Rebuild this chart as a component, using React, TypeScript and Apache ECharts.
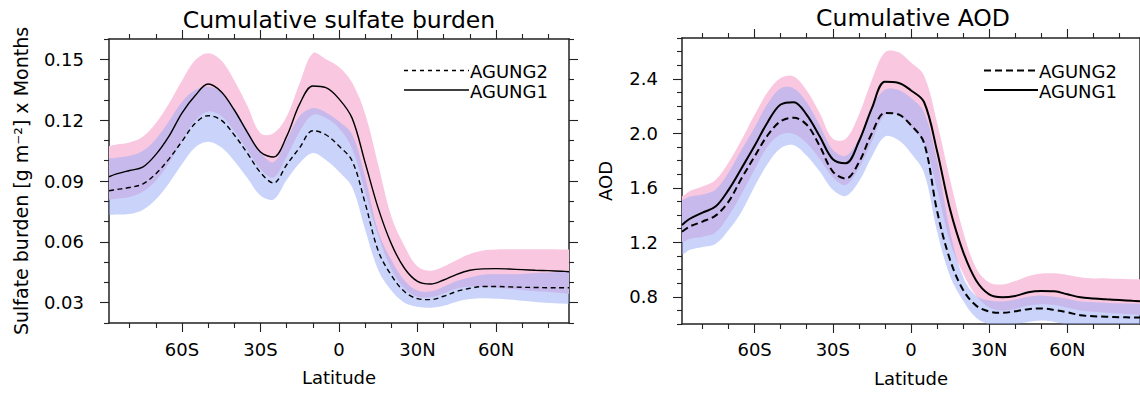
import React, { useEffect, useRef } from "react";
import * as echarts from "echarts";

// ---- data ----
const LATITUDES = [-87.86, -85, -80, -75, -70, -65, -60, -55, -50, -45, -40, -35, -30, -25, -20, -15, -10, -5, 0, 5, 10, 15, 20, 25, 30, 35, 40, 45, 50, 55, 60, 65, 70, 75, 80, 85, 87.86];

const SULFATE_AGUNG1 = [0.0921, 0.0935, 0.0952, 0.0968, 0.1030, 0.1120, 0.1235, 0.1320, 0.1378, 0.1340, 0.1250, 0.1140, 0.1043, 0.1018, 0.1120, 0.1280, 0.1368, 0.1360, 0.1305, 0.1210, 0.0990, 0.0765, 0.0590, 0.0470, 0.0405, 0.0392, 0.0412, 0.0440, 0.0460, 0.0467, 0.0468, 0.0466, 0.0463, 0.0460, 0.0458, 0.0455, 0.0453];
const SULFATE_AGUNG1_HIGH = [0.1073, 0.1080, 0.1090, 0.1118, 0.1185, 0.1281, 0.1394, 0.1495, 0.1530, 0.1495, 0.1395, 0.1271, 0.1135, 0.1135, 0.1218, 0.1383, 0.1530, 0.1500, 0.1462, 0.1385, 0.1230, 0.0980, 0.0725, 0.0580, 0.0478, 0.0457, 0.0478, 0.0510, 0.0540, 0.0557, 0.0562, 0.0563, 0.0563, 0.0563, 0.0563, 0.0562, 0.0562];
const SULFATE_AGUNG1_LOW = [0.0809, 0.0813, 0.0821, 0.0847, 0.0900, 0.0987, 0.1099, 0.1197, 0.1243, 0.1221, 0.1147, 0.1053, 0.0958, 0.0917, 0.1020, 0.1144, 0.1226, 0.1210, 0.1160, 0.1060, 0.0845, 0.0630, 0.0465, 0.0370, 0.0330, 0.0327, 0.0346, 0.0370, 0.0380, 0.0377, 0.0374, 0.0369, 0.0363, 0.0357, 0.0353, 0.0348, 0.0344];
const SULFATE_AGUNG2 = [0.0852, 0.0858, 0.0868, 0.0885, 0.0935, 0.1008, 0.1095, 0.1183, 0.1222, 0.1200, 0.1127, 0.1037, 0.0942, 0.0890, 0.0980, 0.1065, 0.1148, 0.1128, 0.1072, 0.1000, 0.0790, 0.0555, 0.0435, 0.0355, 0.0320, 0.0315, 0.0332, 0.0356, 0.0371, 0.0380, 0.0380, 0.0378, 0.0376, 0.0375, 0.0374, 0.0374, 0.0374];
const SULFATE_AGUNG2_HIGH = [0.1012, 0.1015, 0.1024, 0.1048, 0.1106, 0.1193, 0.1289, 0.1348, 0.1366, 0.1338, 0.1256, 0.1152, 0.1040, 0.0992, 0.1103, 0.1221, 0.1259, 0.1238, 0.1193, 0.1130, 0.0920, 0.0650, 0.0510, 0.0410, 0.0360, 0.0355, 0.0379, 0.0407, 0.0424, 0.0438, 0.0440, 0.0440, 0.0442, 0.0446, 0.0449, 0.0452, 0.0453];
const SULFATE_AGUNG2_LOW = [0.0732, 0.0735, 0.0737, 0.0757, 0.0809, 0.0888, 0.0982, 0.1065, 0.1094, 0.1066, 0.0999, 0.0915, 0.0828, 0.0809, 0.0905, 0.0989, 0.1038, 0.1004, 0.0946, 0.0870, 0.0660, 0.0460, 0.0360, 0.0300, 0.0280, 0.0275, 0.0285, 0.0305, 0.0318, 0.0322, 0.0320, 0.0316, 0.0310, 0.0304, 0.0299, 0.0296, 0.0295];

const AOD_AGUNG1 = [1.327, 1.371, 1.418, 1.462, 1.585, 1.744, 1.908, 2.082, 2.212, 2.229, 2.136, 1.977, 1.810, 1.781, 1.940, 2.185, 2.378, 2.372, 2.315, 2.230, 1.870, 1.440, 1.130, 0.920, 0.818, 0.797, 0.806, 0.833, 0.842, 0.840, 0.818, 0.796, 0.787, 0.781, 0.776, 0.770, 0.767];
const AOD_AGUNG1_HIGH = [1.540, 1.575, 1.609, 1.658, 1.786, 1.952, 2.136, 2.303, 2.406, 2.418, 2.315, 2.148, 1.960, 1.960, 2.136, 2.393, 2.595, 2.598, 2.520, 2.425, 2.080, 1.660, 1.280, 1.010, 0.905, 0.890, 0.915, 0.950, 0.970, 0.972, 0.960, 0.943, 0.935, 0.935, 0.932, 0.929, 0.928];
const AOD_AGUNG1_LOW = [1.200, 1.225, 1.241, 1.271, 1.393, 1.555, 1.732, 1.903, 1.991, 1.996, 1.928, 1.812, 1.678, 1.621, 1.744, 1.940, 2.136, 2.136, 2.045, 1.935, 1.590, 1.200, 0.970, 0.805, 0.722, 0.700, 0.710, 0.735, 0.745, 0.740, 0.720, 0.700, 0.690, 0.683, 0.677, 0.670, 0.667];
const AOD_AGUNG2 = [1.278, 1.315, 1.352, 1.396, 1.499, 1.670, 1.830, 1.986, 2.089, 2.114, 2.063, 1.906, 1.719, 1.668, 1.786, 2.001, 2.150, 2.140, 2.060, 1.930, 1.430, 1.070, 0.850, 0.735, 0.692, 0.682, 0.693, 0.709, 0.714, 0.703, 0.686, 0.664, 0.657, 0.653, 0.650, 0.648, 0.647];
const AOD_AGUNG2_HIGH = [1.511, 1.535, 1.550, 1.585, 1.712, 1.879, 2.043, 2.217, 2.330, 2.330, 2.229, 2.058, 1.879, 1.835, 1.962, 2.197, 2.320, 2.320, 2.259, 2.155, 1.800, 1.280, 0.945, 0.805, 0.772, 0.765, 0.780, 0.800, 0.810, 0.800, 0.785, 0.765, 0.760, 0.755, 0.752, 0.750, 0.749];
const AOD_AGUNG2_LOW = [1.110, 1.143, 1.165, 1.187, 1.290, 1.425, 1.609, 1.776, 1.891, 1.913, 1.835, 1.719, 1.585, 1.540, 1.646, 1.830, 1.977, 1.952, 1.854, 1.710, 1.280, 0.950, 0.770, 0.645, 0.597, 0.590, 0.600, 0.615, 0.625, 0.615, 0.595, 0.575, 0.565, 0.560, 0.555, 0.550, 0.550];

const X_MIN = -87.86;
const X_MAX = 87.86;
const X_MAJOR_TICKS = [-60, -30, 0, 30, 60];
const X_MINOR_TICKS = [-80, -70, -50, -40, -20, -10, 10, 20, 40, 50, 70, 80];
const SULFATE_Y_MAJOR = [0.03, 0.06, 0.09, 0.12, 0.15];
const SULFATE_Y_MINOR = [0.02, 0.04, 0.05, 0.07, 0.08, 0.10, 0.11, 0.13, 0.14, 0.16];
const AOD_Y_MAJOR = [0.8, 1.2, 1.6, 2.0, 2.4];
const AOD_Y_MINOR = [0.6, 0.7, 0.9, 1.0, 1.1, 1.3, 1.4, 1.5, 1.7, 1.8, 1.9, 2.1, 2.2, 2.3, 2.5, 2.6, 2.7];

const SERIES_NAMES = ["AGUNG2", "AGUNG1"];
const TITLES = ["Cumulative sulfate burden", "Cumulative AOD"];

const FONT = "DejaVu Sans";
const PINK = "#F9C8E0";
const BLUE = "rgba(150,170,245,0.5)";
const AXIS_COLOR = "#222";
const SMOOTH = 0.35;

function latLabel(v: number): string {
  const r = Math.round(v);
  if (r === 0) return "0";
  return r < 0 ? `${-r}S` : `${r}N`;
}

type PanelCfg = {
  yMin: number;
  yMax: number;
  yMajor: number[];
  yMinor: number[];
  yDigits: number;
  yName: string;
  yNameSize: number;
  yNameGap: number;
  xNameGap: number;
  xLabelMargin: number;
  yLabelMargin: number;
  lineWidth: number;
  dash: number[];
  mean1: number[];
  lo1: number[];
  hi1: number[];
  mean2: number[];
  lo2: number[];
  hi2: number[];
};

function bandSeries(lo: number[], hi: number[], color: string, xi: number, yi: number, z: number) {
  return {
    type: "custom",
    xAxisIndex: xi,
    yAxisIndex: yi,
    silent: true,
    clip: true,
    z,
    data: LATITUDES.map((lat, i) => [lat, lo[i], hi[i]]),
    encode: { x: 0, y: [1, 2] },
    renderItem: (params: any, api: any) => {
      if (params.dataIndex !== 0) return null;
      const top = LATITUDES.map((lat, i) => api.coord([lat, hi[i]]));
      const bottom = LATITUDES.map((lat, i) => api.coord([lat, lo[i]]));
      const n = LATITUDES.length;
      const ext = 30;
      const pts = [
        [top[0][0] - ext, top[0][1]],
        ...top,
        [top[n - 1][0] + ext, top[n - 1][1]],
        [bottom[n - 1][0] + ext, bottom[n - 1][1]],
        ...bottom.slice().reverse(),
        [bottom[0][0] - ext, bottom[0][1]],
      ];
      const cs = params.coordSys;
      return {
        type: "polygon",
        shape: { points: pts, smooth: SMOOTH },
        style: { fill: color, stroke: "none" },
        clipPath: { type: "rect", shape: { x: cs.x, y: cs.y, width: cs.width, height: cs.height } },
      };
    },
  };
}

function buildPanel(cfg: PanelCfg, gi: number, xAxes: any[], yAxes: any[], series: any[]) {
  const xi = xAxes.length;
  const yi = yAxes.length;
  const axisLine = { show: true, onZero: false, lineStyle: { color: AXIS_COLOR, width: 1.5 } };
  const noLine = { show: false, onZero: false };
  const tickStyle = { color: AXIS_COLOR, width: 1.1 };
  const labelStyle = { fontSize: 18, fontFamily: FONT, color: "#000" };
  const baseX = { gridIndex: gi, type: "value", min: X_MIN, max: X_MAX, splitLine: { show: false } };
  const baseY = { gridIndex: gi, type: "value", min: cfg.yMin, max: cfg.yMax, splitLine: { show: false } };
  const major = (vals: number[]) => ({ show: true, inside: false, length: 9, customValues: vals, lineStyle: tickStyle });
  const minor = (vals: number[]) => ({ show: true, inside: false, length: 5, customValues: vals, lineStyle: tickStyle });

  xAxes.push({
    ...baseX,
    position: "bottom",
    axisLine,
    axisTick: major(X_MAJOR_TICKS),
    axisLabel: { show: true, customValues: X_MAJOR_TICKS, formatter: latLabel, margin: cfg.xLabelMargin, ...labelStyle },
    name: "Latitude",
    nameLocation: "middle",
    nameGap: cfg.xNameGap,
    nameTextStyle: labelStyle,
  });
  xAxes.push({ ...baseX, position: "bottom", axisLine: noLine, axisTick: minor(X_MINOR_TICKS), axisLabel: { show: false } });
  xAxes.push({ ...baseX, position: "top", axisLine, axisTick: major(X_MAJOR_TICKS), axisLabel: { show: false } });
  xAxes.push({ ...baseX, position: "top", axisLine: noLine, axisTick: minor(X_MINOR_TICKS), axisLabel: { show: false } });

  yAxes.push({
    ...baseY,
    position: "left",
    axisLine,
    axisTick: major(cfg.yMajor),
    axisLabel: {
      show: true,
      customValues: cfg.yMajor,
      formatter: (v: number) => v.toFixed(cfg.yDigits),
      margin: cfg.yLabelMargin,
      ...labelStyle,
    },
    name: cfg.yName,
    nameLocation: "middle",
    nameRotate: 90,
    nameGap: cfg.yNameGap,
    nameTextStyle: { ...labelStyle, fontSize: cfg.yNameSize },
  });
  yAxes.push({ ...baseY, position: "left", axisLine: noLine, axisTick: minor(cfg.yMinor), axisLabel: { show: false } });
  yAxes.push({ ...baseY, position: "right", axisLine, axisTick: major(cfg.yMajor), axisLabel: { show: false } });
  yAxes.push({ ...baseY, position: "right", axisLine: noLine, axisTick: minor(cfg.yMinor), axisLabel: { show: false } });

  const pts = (arr: number[]) => LATITUDES.map((lat, i) => [lat, arr[i]]);
  const common = { type: "line", xAxisIndex: xi, yAxisIndex: yi, symbol: "none", smooth: SMOOTH, silent: true, clip: true };

  series.push(bandSeries(cfg.lo1, cfg.hi1, PINK, xi, yi, 1));
  series.push(bandSeries(cfg.lo2, cfg.hi2, BLUE, xi, yi, 2));
  series.push({
    ...common,
    name: SERIES_NAMES[0],
    data: pts(cfg.mean2),
    lineStyle: { color: "#000", width: cfg.lineWidth, type: cfg.dash },
    z: 5,
  });
  series.push({
    ...common,
    name: SERIES_NAMES[1],
    data: pts(cfg.mean1),
    lineStyle: { color: "#000", width: cfg.lineWidth, type: "solid" },
    z: 5,
  });
}

function legendGraphics(x1: number, x2: number, y1: number, y2: number, lineWidth: number, dash: number[]) {
  const txt = (text: string, y: number) => ({
    type: "text",
    x: x2 + 1,
    y,
    style: {
      text,
      fontSize: 18,
      fontFamily: FONT,
      fill: "#000",
      textAlign: "left",
      textVerticalAlign: "middle",
      align: "left",
      verticalAlign: "middle",
    },
  });
  return [
    { type: "line", shape: { x1, y1, x2, y2: y1 }, style: { stroke: "#000", lineWidth, lineDash: dash } },
    { type: "line", shape: { x1, y1: y2, x2, y2 }, style: { stroke: "#000", lineWidth } },
    txt(SERIES_NAMES[0], y1 + 0.5),
    txt(SERIES_NAMES[1], y2 + 1),
  ];
}

function titleGraphic(text: string, x: number, y: number) {
  return {
    type: "text",
    x,
    y,
    style: {
      text,
      fontSize: 23.5,
      fontFamily: FONT,
      fill: "#000",
      textAlign: "center",
      textVerticalAlign: "middle",
      align: "center",
      verticalAlign: "middle",
    },
  };
}

export default function App() {
  const ref = useRef<HTMLDivElement>(null);
  useEffect(() => {
    if (!ref.current) return;
    const chart = echarts.init(ref.current, undefined, { renderer: "svg" });
    const xAxes: any[] = [];
    const yAxes: any[] = [];
    const series: any[] = [];
    const grids = [
      { left: 109, top: 39, width: 460, height: 284 },
      { left: 682, top: 38, width: 463, height: 286 },
    ];
    buildPanel(
      {
        yMin: 0.02,
        yMax: 0.16,
        yMajor: SULFATE_Y_MAJOR,
        yMinor: SULFATE_Y_MINOR,
        yDigits: 2,
        yName: "Sulfate burden [g m\u207B\u00B2] x Months",
        yNameSize: 19,
        yNameGap: 79,
        xNameGap: 45,
        xLabelMargin: 17,
        yLabelMargin: 25,
        lineWidth: 1.4,
        dash: [5, 3.5],
        mean1: SULFATE_AGUNG1,
        lo1: SULFATE_AGUNG1_LOW,
        hi1: SULFATE_AGUNG1_HIGH,
        mean2: SULFATE_AGUNG2,
        lo2: SULFATE_AGUNG2_LOW,
        hi2: SULFATE_AGUNG2_HIGH,
      },
      0,
      xAxes,
      yAxes,
      series
    );
    buildPanel(
      {
        yMin: 0.6,
        yMax: 2.7,
        yMajor: AOD_Y_MAJOR,
        yMinor: AOD_Y_MINOR,
        yDigits: 1,
        yName: "AOD",
        yNameSize: 18,
        yNameGap: 68,
        xNameGap: 45,
        xLabelMargin: 16,
        yLabelMargin: 24,
        lineWidth: 2,
        dash: [7, 4],
        mean1: AOD_AGUNG1,
        lo1: AOD_AGUNG1_LOW,
        hi1: AOD_AGUNG1_HIGH,
        mean2: AOD_AGUNG2,
        lo2: AOD_AGUNG2_LOW,
        hi2: AOD_AGUNG2_HIGH,
      },
      1,
      xAxes,
      yAxes,
      series
    );

    chart.setOption({
      animation: false,
      backgroundColor: "#fff",
      grid: grids,
      xAxis: xAxes,
      yAxis: yAxes,
      series,
      graphic: [
        titleGraphic(TITLES[0], 339, 19.5),
        titleGraphic(TITLES[1], 913, 18),
        ...legendGraphics(404, 469, 70.5, 90, 1.3, [4, 4]),
        ...legendGraphics(984, 1038, 70.5, 90, 2, [7, 4]),
      ],
    });
    return () => chart.dispose();
  }, []);
  return (
    <div
      ref={ref}
      style={{ position: "fixed", left: 0, top: 0, width: 1140, height: 395, background: "#fff" }}
    />
  );
}
